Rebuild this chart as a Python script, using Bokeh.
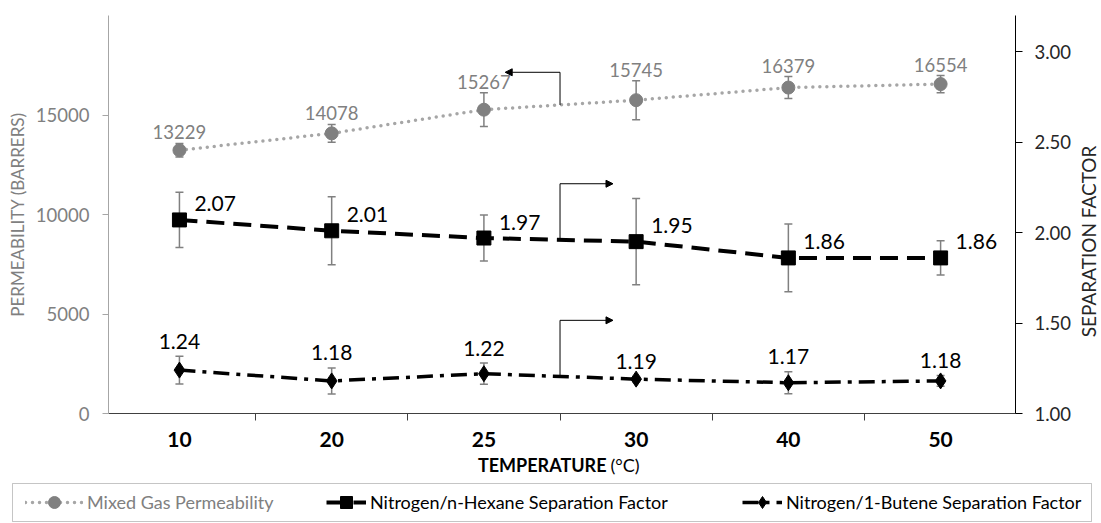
import math
from bokeh.plotting import figure
from bokeh.layouts import row
from bokeh.models import (Range1d, LinearAxis, FixedTicker, ColumnDataSource, Whisker, TeeHead,
                          Arrow, NormalHead, Label, Legend, LegendItem, BoxAnnotation,
                          PrintfTickFormatter)
from bokeh.core.properties import value
from bokeh.embed import file_html
from bokeh.resources import INLINE

# ---------------- data ----------------
temperatures = ["10", "20", "25", "30", "40", "50"]
permeability = [13229, 14078, 15267, 15745, 16379, 16554]
permeability_err = [340, 450, 850, 980, 550, 430]
hexane_sf = [2.07, 2.01, 1.97, 1.95, 1.86, 1.86]
hexane_err = [0.153, 0.188, 0.127, 0.238, 0.187, 0.095]
butene_sf = [1.24, 1.18, 1.22, 1.19, 1.17, 1.18]
butene_err = [0.077, 0.072, 0.059, 0.015, 0.061, 0.030]
left_ticks = [0, 5000, 10000, 15000]
right_ticks = [1.0, 1.5, 2.0, 2.5, 3.0]

FONT = "Lato"
GRAY = "#808080"
LIGHT = "#A6A6A6"
W = 1101
W_SIDE = 27
W_MAIN = W - W_SIDE
H_MAIN = 452
H_BOTTOM = 523 - H_MAIN
FRAME_TOP, FRAME_BOTTOM, FRAME_LEFT, FRAME_RIGHT = 15, 413, 108, 1016

idx = list(range(len(temperatures)))

p = figure(width=W_MAIN, height=H_MAIN, output_backend="svg", toolbar_location=None,
           x_range=Range1d(-0.466, 5.492), y_range=Range1d(0, 20000),
           min_border_left=FRAME_LEFT, min_border_right=W_MAIN - FRAME_RIGHT,
           min_border_top=FRAME_TOP, min_border_bottom=H_MAIN - FRAME_BOTTOM)
p.extra_y_ranges = {"sf": Range1d(1.0, 3.2)}
p.grid.visible = False
p.outline_line_color = None
p.background_fill_color = "white"
p.border_fill_color = "white"

# x axis
xa = p.xaxis[0]
xa.ticker = FixedTicker(ticks=idx, minor_ticks=[i + 0.5 for i in idx[:-1]])
xa.major_label_overrides = {i: t for i, t in zip(idx, temperatures)}
xa.major_tick_out = 0
xa.major_tick_in = 0
xa.minor_tick_out = 7
xa.minor_tick_in = 0
xa.minor_tick_line_color = "#404040"
xa.axis_line_color = "#404040"
xa.major_label_text_font = FONT
xa.major_label_text_font_style = "bold"
xa.major_label_text_font_size = "21px"
xa.major_label_text_color = "black"
xa.major_label_standoff = 11

# left axis
ya = p.yaxis[0]
ya.ticker = FixedTicker(ticks=left_ticks)
ya.formatter = PrintfTickFormatter(format="%d")
ya.axis_line_color = LIGHT
ya.major_tick_line_color = LIGHT
ya.major_tick_out = 6
ya.major_tick_in = 0
ya.minor_tick_line_color = None
ya.major_label_text_color = GRAY
ya.major_label_text_font = FONT
ya.major_label_text_font_size = "18.5px"
ya.major_label_standoff = 13
ya.axis_label = "PERMEABILITY (BARRERS)"
ya.axis_label_text_color = GRAY
ya.axis_label_text_font = FONT
ya.axis_label_text_font_size = "17px"
ya.axis_label_text_font_style = "normal"
ya.axis_label_standoff = 5

# right axis (its title is drawn in the narrow side strip)
ra = LinearAxis(y_range_name="sf", ticker=FixedTicker(ticks=right_ticks),
                formatter=PrintfTickFormatter(format="%.2f"))
ra.axis_line_color = "black"
ra.major_tick_line_color = "black"
ra.major_tick_out = 7
ra.major_tick_in = 0
ra.minor_tick_line_color = None
ra.major_label_text_color = "#262626"
ra.major_label_text_font = FONT
ra.major_label_text_font_size = "18.5px"
ra.major_label_standoff = 12
p.add_layout(ra, "right")

# sources
def make_src(vals, errs, fmt):
    return ColumnDataSource(dict(
        x=idx, y=vals,
        lower=[v - e for v, e in zip(vals, errs)],
        upper=[v + e for v, e in zip(vals, errs)],
        label=[fmt % v for v in vals]))

src_perm = make_src(permeability, permeability_err, "%d")
src_hex = make_src(hexane_sf, hexane_err, "%.2f")
src_but = make_src(butene_sf, butene_err, "%.2f")

# error bars
def whisker(src, rng=None):
    kw = dict(base="x", upper="upper", lower="lower", source=src,
              line_color=GRAY, line_width=1.5, level="underlay",
              upper_head=TeeHead(size=8, line_color=GRAY, line_width=1.5),
              lower_head=TeeHead(size=8, line_color=GRAY, line_width=1.5))
    if rng:
        kw["y_range_name"] = rng
    return Whisker(**kw)

p.add_layout(whisker(src_perm))
p.add_layout(whisker(src_hex, "sf"))
p.add_layout(whisker(src_but, "sf"))

# series styles
perm_line_style = dict(line_color=LIGHT, line_width=3.5, line_dash="0 7", line_cap="round")
perm_pt_style = dict(marker="circle", fill_color=GRAY, line_color=GRAY)
hex_line_style = dict(line_color="black", line_width=4, line_dash="18 9")
hex_pt_style = dict(marker="square", fill_color="black", line_color="black")
but_line_style = dict(line_color="black", line_width=3.5, line_dash="16 7 4 7")
but_pt_style = dict(marker="diamond", fill_color="black", line_color="black")

p.line("x", "y", source=src_perm, **perm_line_style)
p.scatter("x", "y", source=src_perm, size=13, **perm_pt_style)
p.line("x", "y", source=src_hex, y_range_name="sf", **hex_line_style)
p.scatter("x", "y", source=src_hex, y_range_name="sf", size=14, **hex_pt_style)
p.line("x", "y", source=src_but, y_range_name="sf", **but_line_style)
p.scatter("x", "y", source=src_but, y_range_name="sf", size=16, **but_pt_style)

# data labels
p.text("x", "upper", text="label", source=src_perm, text_align="center",
       text_baseline="middle", y_offset=-11, text_color=GRAY,
       text_font=value(FONT), text_font_size="18.5px")
p.text("x", "y", text="label", source=src_hex, y_range_name="sf", text_align="left",
       text_baseline="middle", x_offset=15, y_offset=-16, text_color="black",
       text_font=value(FONT), text_font_size="21px")
p.text("x", "upper", text="label", source=src_but, y_range_name="sf", text_align="center",
       text_baseline="middle", y_offset=-15, text_color="black",
       text_font=value(FONT), text_font_size="21px")

# axis-pointing arrows
xm = (idx[2] + idx[3]) / 2.0
perm_mid = (permeability[2] + permeability[3]) / 2.0
hex_mid = (hexane_sf[2] + hexane_sf[3]) / 2.0
but_mid = (butene_sf[2] + butene_sf[3]) / 2.0
RISE_L = 1640
RISE_R = 0.31
RUN_L = 0.36
RUN_R = 0.348

def elbow(y0, rise, run, rng=None):
    kw = {"y_range_name": rng} if rng else {}
    p.add_layout(Arrow(end=None, x_start=xm, y_start=y0, x_end=xm, y_end=y0 + rise,
                       line_color="black", line_width=1, **kw))
    p.add_layout(Arrow(end=NormalHead(size=7, fill_color="black", line_color="black",
                                      line_width=1),
                       x_start=xm, y_start=y0 + rise, x_end=xm + run, y_end=y0 + rise,
                       line_color="black", line_width=1, **kw))

elbow(perm_mid, RISE_L, -RUN_L)
elbow(hex_mid, RISE_R, RUN_R, "sf")
elbow(but_mid, RISE_R, RUN_R, "sf")

# ---------------- side strip: right-axis title ----------------
frame_h = FRAME_BOTTOM - FRAME_TOP
s = figure(width=W_SIDE, height=H_MAIN, output_backend="svg", toolbar_location=None,
           x_range=Range1d(0, W_SIDE), y_range=Range1d(0, frame_h),
           x_axis_type=None, y_axis_type=None,
           min_border_left=0, min_border_right=0, min_border_top=FRAME_TOP,
           min_border_bottom=H_MAIN - FRAME_BOTTOM)
s.grid.visible = False
s.outline_line_color = None
s.background_fill_color = "white"
s.border_fill_color = "white"
s.add_layout(Label(x=W_SIDE / 2.0, y=FRAME_BOTTOM - 241, text="SEPARATION FACTOR",
                   angle=math.pi / 2, text_align="center", text_baseline="middle",
                   text_font=FONT, text_font_size="19px", text_color="#262626"))

# ---------------- bottom strip: x title + legend ----------------
q = figure(width=W, height=H_BOTTOM, output_backend="svg", toolbar_location=None,
           x_range=Range1d(0, W), y_range=Range1d(H_BOTTOM, 0),
           x_axis_type=None, y_axis_type=None,
           min_border_left=0, min_border_right=0, min_border_top=0, min_border_bottom=0)
q.grid.visible = False
q.outline_line_color = None
q.background_fill_color = "white"
q.border_fill_color = "white"

q.add_layout(Label(x=606, y=464 - H_MAIN, text="TEMPERATURE", text_align="right",
                   text_baseline="middle", text_font=FONT, text_font_style="bold",
                   text_font_size="18px", text_color="black"))
q.add_layout(Label(x=610, y=464 - H_MAIN, text="(°C)", text_align="left",
                   text_baseline="middle", text_font=FONT, text_font_size="18px",
                   text_color="black"))

q.add_layout(BoxAnnotation(left=12, right=1091, top=483 - H_MAIN, bottom=521 - H_MAIN,
                           fill_alpha=0, line_color="#404040", line_width=1))

# legend proxies (NaN points: never drawn, only give the legend its glyphs)
nan = [float("nan")]
lp = q.line(nan, nan, **perm_line_style)
sp = q.scatter(nan, nan, **perm_pt_style)
lh = q.line(nan, nan, **hex_line_style)
sh = q.scatter(nan, nan, **hex_pt_style)
lb = q.line(nan, nan, **but_line_style)
sb = q.scatter(nan, nan, **but_pt_style)

def legend(label, rens, x, gw, color):
    return Legend(items=[LegendItem(label=label, renderers=rens)], location=(x, 6),
                  orientation="horizontal", glyph_width=gw, glyph_height=30,
                  label_standoff=4, padding=0, margin=0, border_line_color=None,
                  background_fill_alpha=0, label_text_color=color,
                  label_text_font=FONT, label_text_font_size="18px")

q.add_layout(legend("Mixed Gas Permeability", [lp, sp], 25, 58, GRAY))
q.add_layout(legend("Nitrogen/n-Hexane Separation Factor", [lh, sh], 326, 40, "black"))
q.add_layout(legend("Nitrogen/1-Butene Separation Factor", [lb, sb], 742, 40, "black"))

open("out.html", "w").write(file_html([row(p, s, spacing=0), q], INLINE))
